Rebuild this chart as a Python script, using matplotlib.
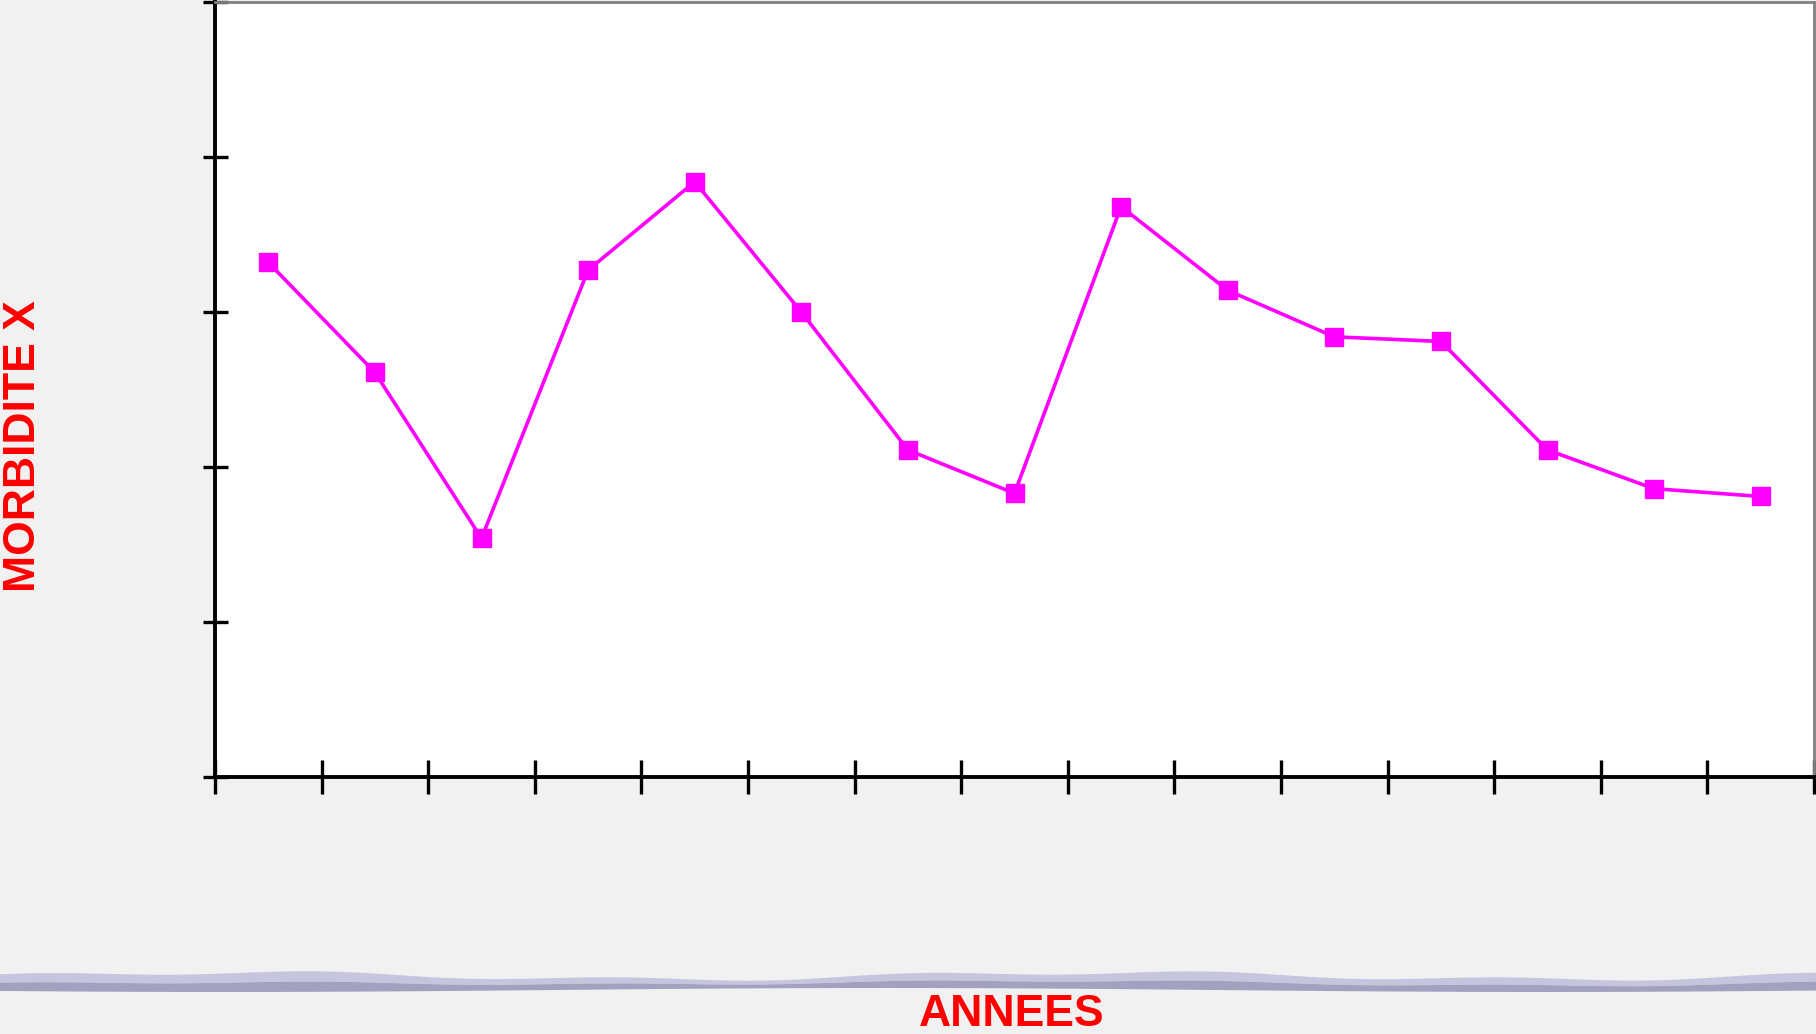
import numpy as np
import matplotlib.pyplot as plt

# morbidity per year (no labels shown on the original axes)
periods = list(range(1, 16))
morbidite = [33.2, 26.1, 15.4, 32.7, 38.4, 30.0, 21.1, 18.3,
             36.8, 31.4, 28.4, 28.1, 21.1, 18.6, 18.1]
y_ticks = [0, 10, 20, 30, 40, 50]

W, H = 1816, 1034
fig = plt.figure(figsize=(W / 100, H / 100), dpi=100)
fig.patch.set_facecolor("#f1f1f1")

# slide decoration: wavy lavender band near the bottom
bg = fig.add_axes([0, 0, 1, 1], zorder=0)
bg.set_xlim(0, W)
bg.set_ylim(H, 0)
bg.axis("off")
xs = np.linspace(0, W, 400)
top = 976 - 3.5 * np.sin(xs / 140.0) - 2 * np.sin(xs / 47.0 + 1.0)
bot = 990 + 2 * np.sin(xs / 210.0 + 0.5)
mid = (top + bot) / 2
bg.fill_between(xs, top, mid, color="#c5c5de", lw=0)
bg.fill_between(xs, mid, bot, color="#a2a2c0", lw=0)

ax = fig.add_axes([215 / W, 1 - 777 / H, (1814 - 215) / W, (777 - 2) / H], zorder=1)
ax.set_facecolor("white")

x = [p - 0.5 for p in periods]
ax.plot(x, morbidite, color="#ff00ff", lw=2.6, marker="s", markersize=13,
        markerfacecolor="#ff00ff", markeredgecolor="#ff00ff", clip_on=False)

ax.set_xlim(0, len(periods))
ax.set_ylim(0, 50)
ax.set_xticks(range(0, len(periods) + 1))
ax.set_yticks(y_ticks)
ax.set_xticklabels([])
ax.set_yticklabels([])
ax.tick_params(axis="x", direction="inout", length=25, width=2.4, color="black")
ax.tick_params(axis="y", direction="inout", length=18, width=2.4, color="black")

for s in ["left", "bottom"]:
    ax.spines[s].set_color("black")
    ax.spines[s].set_linewidth(2.8)
for s in ["top", "right"]:
    ax.spines[s].set_color("#808080")
    ax.spines[s].set_linewidth(2)

fig.text(1012 / W, 1 - 1015 / H, "ANNEES", color="red", fontsize=32,
         fontweight="bold", family="Liberation Sans", ha="center", va="center")
fig.text(24 / W, 1 - 446 / H, "MORBIDITE X", color="red", fontsize=32,
         fontweight="bold", family="Liberation Sans", ha="center", va="center",
         rotation=90)

fig.savefig("out.png", dpi=100, facecolor=fig.get_facecolor())
